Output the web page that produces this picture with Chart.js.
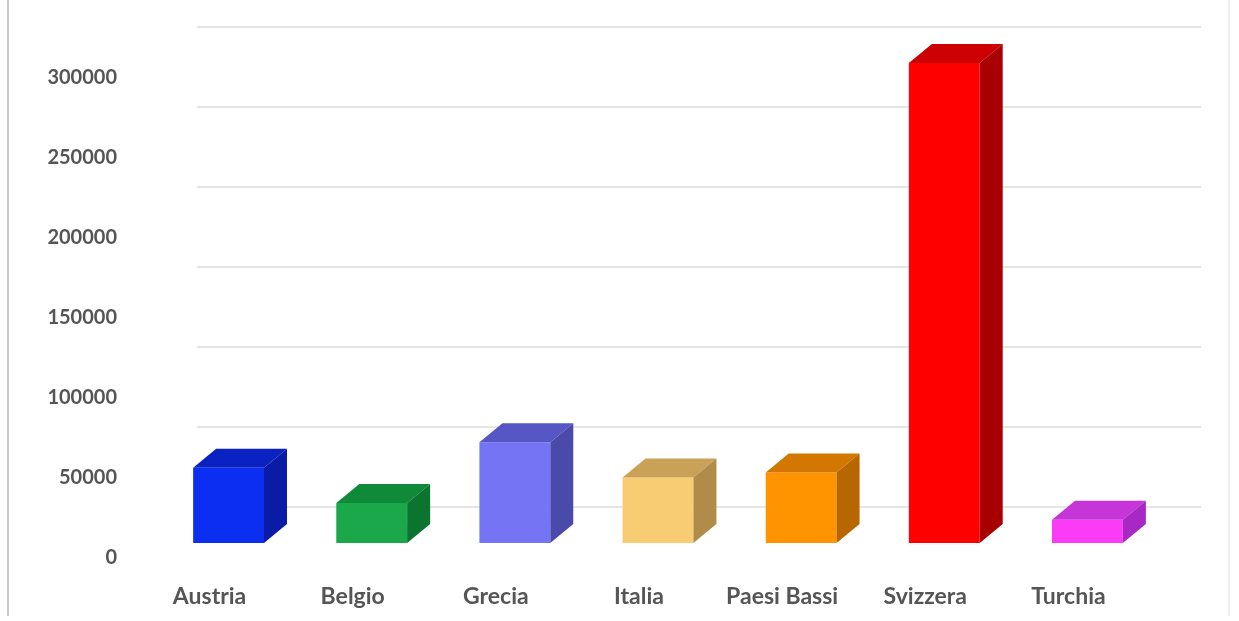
<!DOCTYPE html>
<html>
<head>
<meta charset="utf-8">
<script src="https://cdn.jsdelivr.net/npm/chart.js@4"></script>
<style>
  html, body { margin: 0; padding: 0; background: #fff; overflow: hidden; }
  #box { width: 1239px; height: 621px; position: relative; }
</style>
</head>
<body>
<div id="box"><canvas id="grafico" width="1239" height="621"></canvas></div>
<script>
// dati
const paesi = ['Austria', 'Belgio', 'Grecia', 'Italia', 'Paesi Bassi', 'Svizzera', 'Turchia'];
const valori = [47000, 25000, 63000, 41000, 44000, 300000, 14500];
const tickY = [0, 50000, 100000, 150000, 200000, 250000, 300000];

// colori: fronte, sopra, lato
const coloriFronte = ['#0b2ef0', '#1ba84b', '#7474f4', '#f8cc72', '#ff9400', '#ff0000', '#fb3cf6'];
const coloriSopra = ['#0a22c2', '#0e8a38', '#5656c4', '#c9a258', '#d27800', '#cc0000', '#c535d8'];
const coloriLato = ['#0a1ca6', '#0b7530', '#4a4aab', '#b08c48', '#b86600', '#a80000', '#a828c4'];

const prof = { dx: 23, dy: 19 };

// disegna le facce 3D e il muro di fondo
const effetto3d = {
  id: 'effetto3d',
  beforeDraw(chart) {
    const c = chart.ctx;
    c.save();
    c.fillStyle = '#ffffff';
    c.fillRect(0, 0, chart.width, chart.height);
    c.strokeStyle = '#c8c8c8';
    c.lineWidth = 2;
    c.beginPath();
    c.moveTo(8, 0); c.lineTo(8, 616);
    c.stroke();
    c.strokeStyle = '#eeeeee';
    c.beginPath();
    c.moveTo(1229, 0); c.lineTo(1229, 616);
    c.stroke();
    c.restore();
  },
  beforeDatasetsDraw(chart) {
    const c = chart.ctx;
    const y = chart.scales.y;
    const area = chart.chartArea;
    c.save();
    c.strokeStyle = '#e6e6e6';
    c.lineWidth = 2;
    // griglia sul muro di fondo
    for (let v = 50000; v <= 350000; v += 50000) {
      const py = Math.round(y.getPixelForValue(v)) + 44;
      c.beginPath();
      c.moveTo(area.left + 40, py);
      c.lineTo(area.right + 42, py);
      c.stroke();
    }
    c.restore();
  },
  afterDatasetsDraw(chart) {
    const c = chart.ctx;
    const meta = chart.getDatasetMeta(0);
    c.save();
    meta.data.forEach((bar, i) => {
      const sx = bar.x - bar.width / 2;
      const dx = bar.x + bar.width / 2;
      const top = bar.y;
      const base = bar.base;
      // faccia superiore
      c.fillStyle = coloriSopra[i];
      c.beginPath();
      c.moveTo(sx, top);
      c.lineTo(sx + prof.dx, top - prof.dy);
      c.lineTo(dx + prof.dx, top - prof.dy);
      c.lineTo(dx, top);
      c.closePath();
      c.fill();
      // faccia laterale
      c.fillStyle = coloriLato[i];
      c.beginPath();
      c.moveTo(dx, top);
      c.lineTo(dx + prof.dx, top - prof.dy);
      c.lineTo(dx + prof.dx, base - prof.dy);
      c.lineTo(dx, base);
      c.closePath();
      c.fill();
    });
    c.restore();
  }
};

const ctx = document.getElementById('grafico').getContext('2d');
const grafico = new Chart(ctx, {
  type: 'bar',
  data: {
    labels: paesi,
    datasets: [{
      data: valori,
      backgroundColor: coloriFronte,
      borderWidth: 0,
      barPercentage: 0.99,
      categoryPercentage: 0.5
    }]
  },
  options: {
    responsive: false,
    animation: false,
    layout: { padding: { top: 63, right: 80, bottom: 0, left: 0 } },
    plugins: {
      legend: { display: false },
      tooltip: { enabled: false }
    },
    scales: {
      x: {
        grid: { display: false, drawTicks: false },
        border: { display: false },
        ticks: {
          color: '#555555',
          padding: 40,
          labelOffset: -19,
          font: { family: 'Lato', size: 23, weight: 'bold' }
        },
        afterFit(scale) { scale.height = 78; }
      },
      y: {
        min: 0,
        max: 300000,
        grid: { display: false, drawTicks: false },
        border: { display: false },
        afterBuildTicks(scale) { scale.ticks = tickY.map(v => ({ value: v })); },
        ticks: {
          color: '#555555',
          padding: 40,
          labelOffset: 15,
          font: { family: 'Lato', size: 20, weight: 'bold' },
          callback: v => String(v)
        },
        afterFit(scale) { scale.width = 157; }
      }
    }
  },
  plugins: [effetto3d]
});
</script>
</body>
</html>
